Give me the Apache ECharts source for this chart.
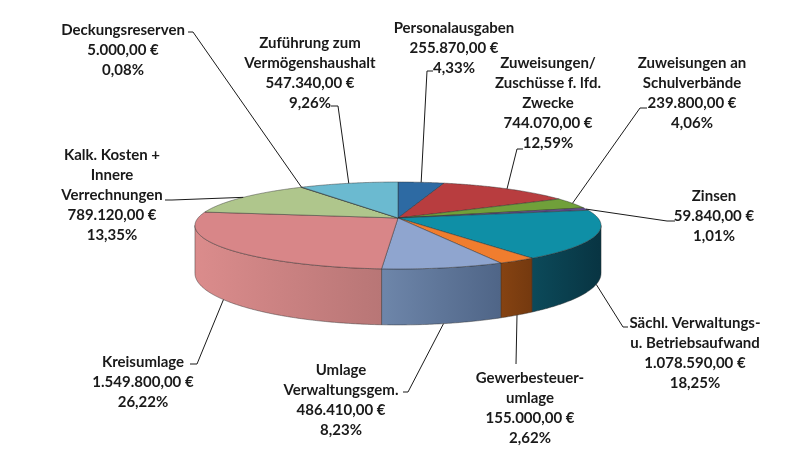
<!DOCTYPE html>
<html lang="de">
<head>
    <meta charset="UTF-8">
    <title>Verwaltungshaushalt Ausgaben</title>
    <script src="https://cdn.jsdelivr.net/npm/echarts@6.0.0/dist/echarts.min.js"></script>
    <style>
        html, body { margin: 0; padding: 0; background: #fff; }
        #pieChart { width: 800px; height: 450px; }
    </style>
</head>
<body>
<div id="pieChart"></div>
<script>
    // Daten (im Uhrzeigersinn ab 12 Uhr)
    let categories = [
        'Personalausgaben',
        'Zuweisungen/\nZuschüsse f. lfd.\nZwecke',
        'Zuweisungen an\nSchulverbände',
        'Zinsen',
        'Sächl. Verwaltungs-\nu. Betriebsaufwand',
        'Gewerbesteuer-\numlage',
        'Umlage\nVerwaltungsgem.',
        'Kreisumlage',
        'Kalk. Kosten +\nInnere\nVerrechnungen',
        'Deckungsreserven',
        'Zuführung zum\nVermögenshaushalt'
    ];
    let values = [255870, 744070, 239800, 59840, 1078590, 155000, 486410, 1549800, 789120, 5000, 547340];

    // Farben
    let topColors = ['#2d6aa3', '#b83d3f', '#70a03a', '#5f4b8b', '#0f8fa6', '#f07d2e',
        '#8fa5cf', '#d88688', '#afc68c', '#8a7fb0', '#6bbad0'];
    let sideColors = [
        ['#1f4c78', '#1a3f63'], ['#8a2c2e', '#742426'], ['#527a28', '#44661f'], ['#463766', '#3a2d55'],
        ['#0c4a5a', '#083442'], ['#864312', '#74390f'], ['#6e86aa', '#4f6587'], ['#db8c8c', '#b87676'],
        ['#8fa56c', '#7a8d5b'], ['#6a6090', '#584f78'], ['#4d96aa', '#3f7d8e']
    ];

    // Beschriftungen: Mitte erste Zeile, Führungslinie [knickX, knickY, endeX]
    let labelPos = [[454, 28], [548, 63], [692, 63], [714, 196], [695, 323], [530, 378],
        [341, 370], [143, 362], [112, 155], [123, 30], [310, 43]];
    let leaders = [[427, 71, 433], [517, 149, 523], [640, 108, 647], [667, 221, 675], [623, 327, 628],
        [516, 364, 516], [408, 392, 403], [197, 364, 190], [172, 200, 165], [193, 32, 188], [338, 106, 331]];

    // Geometrie der 3D-Torte (Perspektive)
    const cx = 398, cy = 218, rx = 200, ry = 42.2, persp = 0.1724, depth = 46.3;
    const frontFrom = Math.acos(-persp), frontTo = 2 * Math.PI - Math.acos(-persp);

    let total = values.reduce((a, b) => a + b, 0);
    let startAngles = [], endAngles = [];
    let acc = 0;
    values.forEach(v => {
        startAngles.push(acc / total * 2 * Math.PI);
        acc += v;
        endAngles.push(acc / total * 2 * Math.PI);
    });

    function proj(t, bottom) {
        let u = Math.sin(t), v = Math.cos(t), d = 1 + persp * v;
        return [cx + rx * u / d, cy - ry * v / d + (bottom ? depth / d : 0)];
    }

    function arc(a0, a1, bottom) {
        let n = Math.max(2, Math.ceil((a1 - a0) / 0.01));
        let pts = [];
        for (let j = 0; j <= n; j++) {
            pts.push(proj(a0 + (a1 - a0) * j / n, bottom));
        }
        return pts;
    }

    function euro(v) {
        let s = Math.floor(v).toString().replace(/\B(?=(\d{3})+(?!\d))/g, '.');
        let c = Math.round((v % 1) * 100).toString().padStart(2, '0');
        return s + ',' + c + ' €';
    }

    function percent(v) {
        return (v / total * 100).toFixed(2).replace('.', ',') + '%';
    }

    let edge = 'rgba(45,45,45,0.75)';

    function renderSlice(params, api) {
        let i = params.dataIndex;
        let value = api.value(0);
        let a0 = startAngles[i], a1 = endAngles[i];
        let children = [];

        // Seitenwand (nur sichtbarer vorderer Teil)
        let s = Math.max(a0, frontFrom), e = Math.min(a1, frontTo);
        if (e > s) {
            let wall = arc(s, e, false).concat(arc(s, e, true).reverse());
            children.push({
                type: 'polygon',
                shape: {points: wall},
                style: {
                    fill: new echarts.graphic.LinearGradient(0, 0, 1, 0, [
                        {offset: 0, color: sideColors[i][0]},
                        {offset: 1, color: sideColors[i][1]}
                    ]),
                    stroke: edge,
                    lineWidth: 0.6
                }
            });
        }

        // Deckfläche
        children.push({
            type: 'polygon',
            shape: {points: [[cx, cy]].concat(arc(a0, a1, false))},
            style: {fill: topColors[i], stroke: edge, lineWidth: 0.6}
        });

        // Führungslinie
        let mid = (a0 + a1) / 2;
        let p = proj(mid, mid > frontFrom && mid < frontTo);
        let L = leaders[i];
        children.push({
            type: 'polyline',
            shape: {points: [p, [L[0], L[1]], [L[2], L[1]]]},
            style: {stroke: '#1a1a1a', lineWidth: 1, fill: null},
            z2: 5
        });

        // Beschriftung
        children.push({
            type: 'text',
            x: labelPos[i][0],
            y: labelPos[i][1] - 10,
            style: {
                text: categories[i] + '\n' + euro(value) + '\n' + percent(value),
                align: 'center',
                verticalAlign: 'top',
                lineHeight: 20,
                font: 'bold 15px Lato',
                fill: '#1a1a1a'
            },
            z2: 6
        });

        return {type: 'group', children: children};
    }

    let pieDom = document.getElementById('pieChart');
    let myPieChart = echarts.init(pieDom);
    let pieOption = {
        backgroundColor: '#ffffff',
        animation: false,
        series: [{
            type: 'custom',
            coordinateSystem: 'none',
            renderItem: renderSlice,
            data: values.map(v => [v])
        }]
    };
    pieOption && myPieChart.setOption(pieOption);
</script>
</body>
</html>
